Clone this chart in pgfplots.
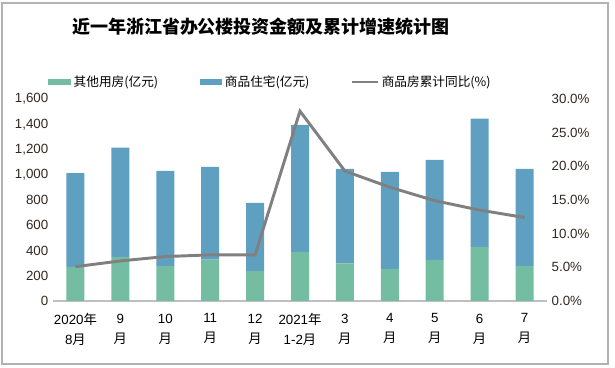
\documentclass[border=0pt]{standalone}
\usepackage{pgfplots}
\pgfplotsset{compat=1.18}
\usepackage{fontspec}
\setmainfont{Liberation Sans}
\newfontfamily\cjk{Noto Sans CJK SC}
\definecolor{cgreen}{RGB}{116,189,162}
\definecolor{cblue}{RGB}{95,160,193}
\definecolor{cline}{RGB}{128,128,128}
\definecolor{ctick}{RGB}{50,40,30}
\pgfplotstableread{
x other house yoy
0 270 743 5.1
1 349 865 5.95
2 278 753 6.6
3 328 735 6.85
4 238 539 6.85
5 389 1007 28.2
6 299 748 19.3
7 254 769 16.9
8 325 793 14.9
9 426 1018 13.5
10 278 769 12.4
}\datatable
\begin{document}
\begin{tikzpicture}[x=0.75pt,y=0.75pt]
\path (0,0) rectangle (615,368);
\draw[gray!60, line width=0.8pt] (2,4) rectangle (608,365);
\node[font=\cjk\bfseries\fontsize{13.5}{16}\selectfont] at (261,341) {近一年浙江省办公楼投资金额及累计增速统计图};
\begin{axis}[
  at={(39.75pt,50.25pt)}, anchor=south west,
  scale only axis, width=370.5pt, height=151.5pt,
  xmin=-0.5, xmax=10.5, ymin=0, ymax=1600,
  ybar stacked, bar width=13.5pt,
  axis y line*=left, axis x line*=bottom,
  y axis line style={draw=none},
  x axis line style={draw=gray!50, line width=0.8pt},
  ytick={0,200,...,1600},
  scaled y ticks=false,
  /pgf/number format/assume math mode=true,
  /pgf/number format/1000 sep={,},
  yticklabel style={font=\fontsize{10}{12}\selectfont, text=ctick},
  xtick={0,...,10}, major tick length=0pt,
  xticklabels={{2020{\cjk 年}\\8{\cjk 月}},{9\\{\cjk 月}},{10\\{\cjk 月}},{11\\{\cjk 月}},{12\\{\cjk 月}},{2021{\cjk 年}\\1-2{\cjk 月}},{3\\{\cjk 月}},{4\\{\cjk 月}},{5\\{\cjk 月}},{6\\{\cjk 月}},{7\\{\cjk 月}}},
  xticklabel style={align=center, font=\fontsize{10}{15}\selectfont, text=black, yshift=-6pt},
  legend columns=3,
  legend style={at={(0.441,1.084)}, anchor=center, draw=none, fill=none,
    font=\cjk\fontsize{9.5}{11}\selectfont, /tikz/every even column/.append style={column sep=29pt}},
  legend cell align=left,
]
\addplot[fill=cgreen, draw=none, area legend, legend image code/.code={\fill[cgreen] (0pt,-2.6pt) rectangle (17pt,2.6pt);}] table[x=x,y=other] {\datatable};
\addlegendentry{其他用房(亿元)}
\addplot[fill=cblue, draw=none, area legend, legend image code/.code={\fill[cblue] (0pt,-2.6pt) rectangle (17pt,2.6pt);}] table[x=x,y=house] {\datatable};
\addlegendentry{商品住宅(亿元)}
\addlegendimage{legend image code/.code={\draw[cline, line width=2.2pt] (0pt,0pt) -- (19pt,0pt);}}
\addlegendentry{商品房累计同比(\%)}
\end{axis}
\begin{axis}[
  at={(39.75pt,50.25pt)}, anchor=south west,
  scale only axis, width=370.5pt, height=151.5pt,
  xmin=-0.5, xmax=10.5, ymin=0, ymax=30,
  axis y line*=right, axis x line=none,
  y axis line style={draw=none},
  ytick={0,5,...,30}, major tick length=0pt,
  /pgf/number format/assume math mode=true,
  yticklabel={\pgfmathprintnumber[fixed,fixed zerofill,precision=1]{\tick}\%},
  yticklabel style={font=\fontsize{10}{12}\selectfont, text=ctick},
]
\addplot[cline, line width=2.2pt, mark=none] table[x=x,y=yoy] {\datatable};
\end{axis}
\end{tikzpicture}
\end{document}
